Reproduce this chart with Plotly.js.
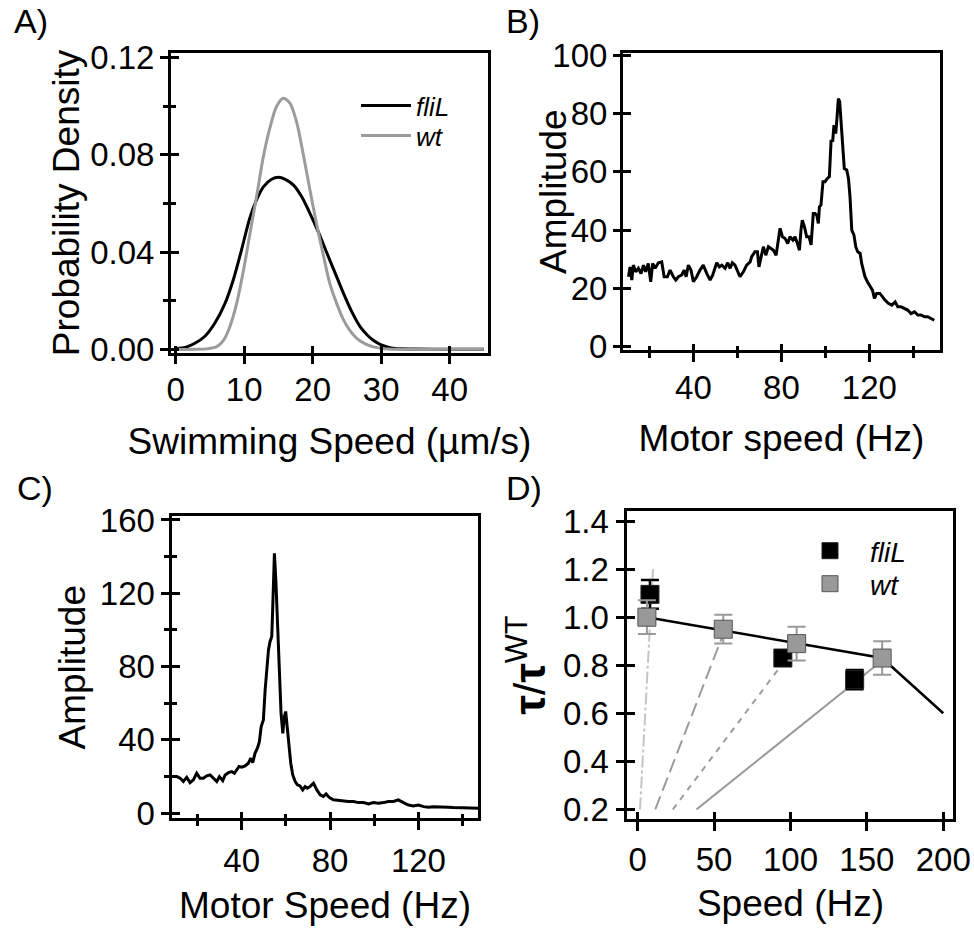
<!DOCTYPE html>
<html>
<head>
<meta charset="utf-8">
<script src="https://cdn.plot.ly/plotly-3.0.1.min.js"></script>
<style>
html,body{margin:0;padding:0;background:#fff;}
#chart{width:974px;height:928px;}
</style>
</head>
<body>
<div id="chart"></div>
<script>
// ---------- Panel A: swimming speed distributions ----------
var speedFliL = [0, 1.4, 2.8, 4.3, 5.7, 7.2, 8.4, 9.6, 10.8, 11.8, 12.8, 14.0, 15.0, 16.0, 17.2, 18.4, 19.6, 20.8, 22.0, 23.3, 24.5, 25.7, 27.0, 28.0, 29.0, 30.0, 31.0, 32.0, 33.0, 35.0, 40.0, 45.0];
var densFliL  = [0.0004, 0.0008, 0.0025, 0.0055, 0.0107, 0.0189, 0.0285, 0.0408, 0.0538, 0.0614, 0.0668, 0.0699, 0.0707, 0.0699, 0.0675, 0.0627, 0.0559, 0.0484, 0.0401, 0.0312, 0.0230, 0.0155, 0.0090, 0.0058, 0.0034, 0.0018, 0.0009, 0.0004, 0.0002, 0.0001, 0, 0];
var speedWt = [0, 2.8, 4.8, 6.0, 7.0, 7.9, 8.9, 9.9, 10.85, 11.8, 12.8, 13.8, 14.7, 15.7, 16.7, 17.7, 18.6, 19.6, 20.6, 21.6, 22.5, 23.5, 24.5, 25.4, 26.2, 27.0, 28.0, 29.0, 30.0, 31.0, 33.0, 40.0, 45.0];
var densWt  = [0, 0, 0.0003, 0.0011, 0.0038, 0.0093, 0.0189, 0.0326, 0.0477, 0.0627, 0.0792, 0.0915, 0.0997, 0.1032, 0.1011, 0.0929, 0.0805, 0.0655, 0.0511, 0.0381, 0.0271, 0.0189, 0.0121, 0.0079, 0.0052, 0.0033, 0.0018, 0.0009, 0.0004, 0.0001, 0, 0, 0];

// ---------- Panel B: spectrum (wt) ----------
var motorB = [10.5, 11.2, 12.0, 12.7, 13.8, 15.0, 16.2, 17.3, 18.3, 19.5, 20.6, 21.5, 22.6, 24.1, 25.6, 26.7, 28.2, 29.4, 30.9, 32.0, 33.2, 34.7, 35.8, 36.7, 37.7, 38.9, 40.0, 41.5, 43.0, 44.5, 46.1, 47.6, 48.8, 50.6, 51.8, 52.9, 54.4, 55.6, 56.7, 57.7, 58.9, 60.0, 61.2, 62.7, 64.2, 65.8, 66.5, 68.0, 69.1, 69.8, 70.8, 71.8, 72.9, 74.1, 75.3, 76.4, 77.6, 78.6, 79.4, 80.5, 81.7, 82.9, 83.9, 85.2, 86.2, 87.3, 88.2, 88.9, 89.5, 90.5, 91.5, 92.6, 93.5, 94.5, 95.3, 96.1, 96.8, 97.3, 98.0, 98.9, 99.8, 100.9, 101.8, 102.6, 103.3, 103.9, 104.7, 105.2, 105.9, 106.5, 107.1, 107.9, 108.6, 109.7, 110.5, 111.2, 112.0, 113.0, 113.8, 114.7, 115.8, 116.5, 117.3, 118.0, 119.1, 120.3, 121.4, 122.3, 123.3, 124.8, 125.9, 127.1, 128.6, 130.2, 131.7, 132.9, 134.4, 135.9, 137.4, 138.9, 140.5, 142.0, 143.5, 145.0, 146.5, 148.0, 149.5];
var ampB   = [24, 27.4, 22.9, 28, 25.7, 26.9, 25.1, 28, 25.7, 28.6, 22.3, 28.6, 26.9, 28.8, 29.1, 24, 24, 26.3, 24, 22.9, 24, 24.6, 26.3, 24, 28, 26.3, 22.3, 24, 26.3, 28, 25.1, 22.9, 24.6, 28.8, 27.4, 28, 26.9, 28.8, 26.9, 28.8, 28, 26.3, 24, 25.7, 28, 29.1, 30.9, 32.6, 32.6, 27.4, 31.4, 34.3, 31.4, 34.3, 33.7, 33.1, 31.4, 36.6, 40.6, 37.7, 37.1, 35.4, 37.7, 36.6, 37.7, 35.4, 33.1, 40, 43.4, 41.1, 37.7, 37.7, 34.9, 45.7, 45.7, 45.1, 42.3, 48, 48.6, 56.6, 56.6, 57.7, 58.3, 70.9, 70.3, 76, 73.1, 77.7, 85.1, 84, 77.7, 68.6, 61.1, 60.6, 57.7, 51.4, 40, 38.3, 34.3, 32.6, 32, 28.6, 25.7, 24, 22.3, 20.6, 19.4, 16.6, 18.3, 18.3, 17.1, 16, 14.9, 14.3, 15.4, 13.7, 13.7, 13.1, 12.6, 11.4, 12, 10.9, 10.9, 10.3, 10.3, 9.7, 9.1];

// ---------- Panel C: spectrum (fliL) ----------
var motorC = [7.5, 10.6, 12.1, 13.6, 15.1, 16.6, 18.1, 19.6, 21.1, 22.6, 24.2, 25.7, 27.2, 28.7, 29.9, 31.4, 32.5, 34.0, 35.5, 36.7, 37.7, 38.8, 40.0, 41.5, 43.0, 44.1, 45.0, 46.0, 47.1, 48.0, 48.8, 49.8, 50.6, 51.3, 52.1, 52.8, 53.6, 54.0, 54.8, 55.5, 56.3, 57.1, 57.8, 58.6, 59.3, 59.9, 60.7, 61.4, 62.2, 63.1, 64.2, 65.2, 66.4, 67.6, 68.7, 69.7, 70.9, 72.5, 74.0, 75.5, 77.0, 78.2, 79.7, 81.5, 83.8, 86.0, 88.3, 90.6, 92.8, 95.1, 97.4, 99.6, 101.9, 104.2, 106.4, 108.7, 110.9, 113.2, 115.5, 117.7, 120.0, 122.3, 124.5, 126.8, 129.1, 131.3, 133.6, 135.8, 138.1, 140.4, 142.6, 144.9, 147.2];
var ampC   = [20, 20, 19.1, 17.3, 19.6, 16.7, 18.2, 21.8, 19.1, 19.1, 20.4, 20.9, 19.1, 17.3, 20, 17.8, 20.9, 22.2, 22.7, 21.8, 23.6, 25.5, 25.1, 25.8, 27.3, 30, 27.6, 32.7, 35.5, 39.1, 47.3, 50.9, 67.3, 80, 89.1, 93.6, 96.4, 110.9, 141.8, 125.5, 100, 72.7, 54.5, 43.6, 52.7, 55.5, 45.5, 36.4, 27.3, 20.9, 17.3, 15.5, 14.9, 12.7, 14.5, 13.6, 14.5, 16.4, 12.7, 10, 9.1, 10.5, 8.5, 7.3, 6.9, 6.9, 6.4, 6.4, 5.8, 5.8, 5.1, 5.8, 5.5, 5.8, 6.4, 6.4, 7.3, 5.8, 4.5, 4, 4.5, 3.6, 3.3, 3.6, 3.6, 3.3, 3.3, 3.1, 3.1, 2.9, 2.7, 2.7, 2.7];

// ---------- Panel D: normalized torque ----------
var speedDFliL = [8, 95, 142];
var torqueFliL = [1.095, 0.83, 0.74];
var errFliL    = [0.06, 0.02, 0.04];
var speedDWt = [6, 56, 104, 160];
var torqueWt = [1.00, 0.95, 0.89, 0.83];
var errWt    = [0.07, 0.06, 0.07, 0.07];
var curveX = [6, 160, 200];
var curveY = [1.00, 0.83, 0.60];
var load1X = [1.5, 10], load1Y = [0.2, 1.2];
var load2X = [11.5, 56], load2Y = [0.2, 0.93];
var load3X = [23, 94], load3Y = [0.2, 0.80];
var load4X = [38.5, 160], load4Y = [0.2, 0.82];

var FONT = '"Liberation Sans", Arial, Helvetica, sans-serif';
var BLACK = '#000000';
var GRAY = '#9b9b9b';
var TICK = 33, TITLE = 37;

function mainAxis(o) {
  var a = {
    domain: o.domain, range: o.range, autorange: false,
    showline: true, linewidth: 3, linecolor: BLACK, mirror: true,
    showgrid: false, zeroline: false,
    ticks: 'outside', ticklen: o.outLen, tickwidth: 3, tickcolor: BLACK,
    tickmode: 'linear', tick0: o.tick0 || 0, dtick: o.dtick,
    tickfont: {family: FONT, size: TICK, color: BLACK},
    ticklabelstandoff: o.standoff || 0,
    anchor: o.anchor
  };
  if (o.title) a.title = {text: o.title, font: {family: FONT, size: o.titleSize || TITLE, color: BLACK}, standoff: o.titleStandoff};
  if (o.tickformat) a.tickformat = o.tickformat;
  if (o.minor) a.minor = {dtick: o.minor, tick0: 0, ticks: 'outside', ticklen: o.minorOut, tickwidth: 3, tickcolor: BLACK, showgrid: false};
  return a;
}
function innerAxis(o, over, anchor) {
  var a = {
    overlaying: over, anchor: anchor, range: o.range, autorange: false,
    showline: false, showgrid: false, zeroline: false, showticklabels: false,
    ticks: 'inside', ticklen: o.inLen, tickwidth: 3, tickcolor: BLACK,
    tickmode: 'linear', tick0: o.tick0 || 0, dtick: o.dtick
  };
  if (o.minor) a.minor = {dtick: o.minor, tick0: 0, ticks: 'inside', ticklen: o.minorIn, tickwidth: 3, tickcolor: BLACK, showgrid: false};
  return a;
}

var axA_x = {domain: [0.17556, 0.50103], range: [-0.69, 45.6], dtick: 10, outLen: 8, inLen: 7, anchor: 'y', title: 'Swimming Speed (µm/s)', titleStandoff: 22, standoff: -3};
var axA_y = {domain: [0.61961, 0.94289], range: [-0.0015, 0.1218], dtick: 0.04, minor: 0.02, outLen: 8, inLen: 8, minorOut: 5, minorIn: 5, tickformat: '.2f', anchor: 'x', title: 'Probability Density', titleStandoff: 0, standoff: -1};
var axB_x = {domain: [0.63963, 0.96509], range: [8.0, 152.1], dtick: 40, minor: 20, outLen: 9, inLen: 6, minorOut: 5, minorIn: 4, anchor: 'y2', title: 'Motor speed (Hz)', titleStandoff: 21, standoff: -3};
var axB_y = {domain: [0.62284, 0.94289], range: [-1.1, 100.7], dtick: 20, outLen: 7, inLen: 8, anchor: 'x2', standoff: -1};
var axC_x = {domain: [0.17608, 0.49127], range: [8.2, 147.2], dtick: 40, minor: 20, outLen: 9, inLen: 6, minorOut: 5, minorIn: 4, anchor: 'y3', title: 'Motor Speed (Hz)', titleStandoff: 15, standoff: 2};
var axC_y = {domain: [0.11853, 0.44343], range: [-2.6, 161.9], dtick: 40, minor: 20, outLen: 8, inLen: 8, minorOut: 5, minorIn: 5, anchor: 'x3', title: 'Amplitude', titleStandoff: 3, standoff: -1};
var axD_x = {domain: [0.64425, 0.97895], range: [-6.7, 206.7], dtick: 50, outLen: 9, inLen: 7, anchor: 'y4', title: 'Speed (Hz)', titleStandoff: 14, standoff: 0};
var axD_y = {domain: [0.11746, 0.44935], range: [0.16, 1.442], dtick: 0.2, tick0: 0.2, outLen: 8, inLen: 8, tickformat: '.1f', anchor: 'x4', title: '<b>τ</b>/<b>τ</b><sup>WT</sup>', titleSize: 44, titleStandoff: 4, standoff: 1};

function legendBox(xpx, ytop, size, w) {
  return {x: xpx/974, y: 1 - ytop/928, xanchor: 'left', yanchor: 'top', bgcolor: 'rgba(0,0,0,0)',
          font: {family: FONT, size: size, color: BLACK}, itemwidth: w, tracegroupgap: 0};
}
function letter(t, xpx, ypx) {
  return {text: t, x: xpx/974, y: 1 - ypx/928, xref: 'paper', yref: 'paper', xanchor: 'left', yanchor: 'top',
          showarrow: false, font: {family: FONT, size: 34, color: BLACK}};
}

var layout = {
  width: 974, height: 928,
  margin: {l: 0, r: 0, t: 0, b: 0},
  paper_bgcolor: '#ffffff', plot_bgcolor: 'rgba(0,0,0,0)',
  font: {family: FONT, color: BLACK},
  showlegend: true,
  xaxis: mainAxis(axA_x), yaxis: mainAxis(axA_y),
  xaxis2: mainAxis(axB_x), yaxis2: mainAxis(axB_y),
  xaxis3: mainAxis(axC_x), yaxis3: mainAxis(axC_y),
  xaxis4: mainAxis(axD_x), yaxis4: mainAxis(axD_y),
  xaxis5: innerAxis(axA_x, 'x', 'y5'), yaxis5: innerAxis(axA_y, 'y', 'x5'),
  xaxis6: innerAxis(axB_x, 'x2', 'y6'), yaxis6: innerAxis(axB_y, 'y2', 'x6'),
  xaxis7: innerAxis(axC_x, 'x3', 'y7'), yaxis7: innerAxis(axC_y, 'y3', 'x7'),
  xaxis8: innerAxis(axD_x, 'x4', 'y8'), yaxis8: innerAxis(axD_y, 'y4', 'x8'),
  legend:  legendBox(356, 82, 26, 50),
  legend3: legendBox(356, 112, 26, 50),
  legend2: legendBox(790, 526, 28, 70),
  legend4: legendBox(790, 559, 28, 70),
  annotations: [
    letter('A)', 12, 0), letter('B)', 504, 0), letter('C)', 15, 467), letter('D)', 504, 467),
    // y-axis title of panel B sits partly under the "100" tick label, so it is placed directly
    {text: 'Amplitude', textangle: -90, x: 554/974, y: 1 - 192/928, xref: 'paper', yref: 'paper',
     xanchor: 'center', yanchor: 'middle', showarrow: false, font: {family: FONT, size: TITLE, color: BLACK}}
  ]
};

var traces = [
  // A
  {x: speedFliL, y: densFliL, xaxis: 'x', yaxis: 'y', mode: 'lines', name: '<i>fliL</i>', line: {color: BLACK, width: 3, shape: 'spline', smoothing: 0.8}, legend: 'legend'},
  {x: speedWt, y: densWt, xaxis: 'x', yaxis: 'y', mode: 'lines', name: '<i>wt</i>', line: {color: GRAY, width: 3, shape: 'spline', smoothing: 0.8}, legend: 'legend3'},
  // B
  {x: motorB, y: ampB, xaxis: 'x2', yaxis: 'y2', mode: 'lines', showlegend: false, line: {color: BLACK, width: 3}},
  // C
  {x: motorC, y: ampC, xaxis: 'x3', yaxis: 'y3', mode: 'lines', showlegend: false, line: {color: BLACK, width: 3}},
  // D load lines
  {x: load1X, y: load1Y, xaxis: 'x4', yaxis: 'y4', mode: 'lines', showlegend: false, line: {color: '#c4c4c4', width: 2, dash: '12px,3px,3px,3px'}},
  {x: load2X, y: load2Y, xaxis: 'x4', yaxis: 'y4', mode: 'lines', showlegend: false, line: {color: '#9b9b9b', width: 2, dash: '14px,6px'}},
  {x: load3X, y: load3Y, xaxis: 'x4', yaxis: 'y4', mode: 'lines', showlegend: false, line: {color: '#9b9b9b', width: 2, dash: '6px,6px'}},
  {x: load4X, y: load4Y, xaxis: 'x4', yaxis: 'y4', mode: 'lines', showlegend: false, line: {color: '#9b9b9b', width: 2}},
  {x: curveX, y: curveY, xaxis: 'x4', yaxis: 'y4', mode: 'lines', showlegend: false, line: {color: BLACK, width: 2.5}},
  {x: speedDFliL, y: torqueFliL, xaxis: 'x4', yaxis: 'y4', mode: 'markers', name: '<i>fliL</i>', legend: 'legend2',
   marker: {symbol: 'square', size: 18, color: BLACK, line: {color: '#222', width: 1}},
   error_y: {type: 'data', array: errFliL, visible: true, color: BLACK, thickness: 2.5, width: 9}},
  {x: speedDWt, y: torqueWt, xaxis: 'x4', yaxis: 'y4', mode: 'markers', name: '<i>wt</i>', legend: 'legend4',
   marker: {symbol: 'square', size: 18, color: '#999999', line: {color: '#555555', width: 1}},
   error_y: {type: 'data', array: errWt, visible: true, color: '#999999', thickness: 2, width: 9}},
  // helpers for inner tick overlays
  {x: [], y: [], xaxis: 'x5', yaxis: 'y5', showlegend: false, hoverinfo: 'skip'},
  {x: [], y: [], xaxis: 'x6', yaxis: 'y6', showlegend: false, hoverinfo: 'skip'},
  {x: [], y: [], xaxis: 'x7', yaxis: 'y7', showlegend: false, hoverinfo: 'skip'},
  {x: [], y: [], xaxis: 'x8', yaxis: 'y8', showlegend: false, hoverinfo: 'skip'}
];

Plotly.newPlot('chart', traces, layout, {staticPlot: true, displayModeBar: false});
</script>
</body>
</html>
